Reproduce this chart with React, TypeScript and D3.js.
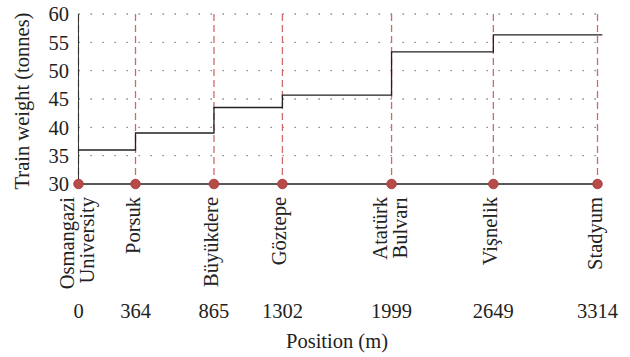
import React, { useEffect, useRef } from "react";
import * as d3 from "d3";

// stations along the line (m)
const stationNames = [["Osmangazi", "University"], ["Porsuk"], ["Büyükdere"], ["Göztepe"], ["Atatürk", "Bulvarı"], ["Vişnelik"], ["Stadyum"]];
const stationPos = [0, 364, 865, 1302, 1999, 2649, 3314];

// train weight steps: from position onward
const stepPos = [0, 364, 865, 1302, 1999, 2649, 3345];
const stepWeight = [36, 39, 43.5, 45.7, 53.3, 56.3, 56.3];

const yTicks = [30, 35, 40, 45, 50, 55, 60];

export default function App() {
  const ref = useRef<SVGSVGElement>(null);

  useEffect(() => {
    const svg = d3.select(ref.current);
    svg.selectAll("*").remove();

    const font = "Liberation Serif";
    const fs = 20.5;
    const x = d3.scaleLinear().domain([0, 3314]).range([78.5, 597.5]);
    const y = d3.scaleLinear().domain([30, 60]).range([184, 14]);

    // dotted horizontal grid
    svg.append("g")
      .selectAll("line")
      .data(yTicks.slice(1))
      .join("line")
      .attr("x1", x(0))
      .attr("x2", x(3314))
      .attr("y1", d => y(d))
      .attr("y2", d => y(d))
      .attr("stroke", "#777")
      .attr("stroke-width", 1.3)
      .attr("stroke-dasharray", "1.3 10.7")
      .attr("stroke-dashoffset", -12);

    // station dashed lines
    svg.append("g")
      .selectAll("line")
      .data(stationPos)
      .join("line")
      .attr("x1", d => x(d))
      .attr("x2", d => x(d))
      .attr("y1", y(60))
      .attr("y2", y(30))
      .attr("stroke", "#d06a6a")
      .attr("stroke-width", 1.3)
      .attr("stroke-dasharray", "7 4");

    // axes lines
    svg.append("line")
      .attr("x1", x(0)).attr("x2", x(0))
      .attr("y1", y(60)).attr("y2", y(30))
      .attr("stroke", "#333").attr("stroke-width", 1);
    svg.append("line")
      .attr("x1", x(0)).attr("x2", x(3314))
      .attr("y1", y(30)).attr("y2", y(30))
      .attr("stroke", "#222").attr("stroke-width", 1.3);

    // step line
    const line = d3.line<number>()
      .x((d, i) => x(stepPos[i]))
      .y(d => y(d))
      .curve(d3.curveStepAfter);
    svg.append("path")
      .attr("d", line(stepWeight))
      .attr("fill", "none")
      .attr("stroke", "#222")
      .attr("stroke-width", 1.3);

    // station dots
    svg.append("g")
      .selectAll("circle")
      .data(stationPos)
      .join("circle")
      .attr("cx", d => x(d))
      .attr("cy", y(30))
      .attr("r", 4.8)
      .attr("fill", "#b84a48")
      .attr("stroke", "#a03c3c")
      .attr("stroke-width", 0.8);

    const txt = (sel: any) =>
      sel.style("font-family", font).style("font-size", fs + "px").attr("fill", "#222");

    // y tick labels
    svg.append("g")
      .selectAll("text")
      .data(yTicks)
      .join("text")
      .attr("x", 69)
      .attr("y", d => y(d))
      .attr("dy", "0.35em")
      .attr("text-anchor", "end")
      .call(txt)
      .text(d => d);

    // y title
    svg.append("text")
      .attr("transform", `translate(29,${(y(30) + y(60)) / 2 + 2}) rotate(-90)`)
      .attr("text-anchor", "middle")
      .call(txt)
      .text("Train weight (tonnes)");

    // station names (rotated)
    const names = svg.append("g")
      .selectAll("g")
      .data(stationPos)
      .join("g")
      .attr("transform", d => `translate(${x(d)},197) rotate(-90)`);
    names.each(function (d, i) {
      const lines = stationNames[i];
      const g = d3.select(this);
      lines.forEach((t, j) => {
        const off = lines.length === 1 ? 4 : (j === 0 ? -5 : 15);
        g.append("text")
          .attr("x", 0)
          .attr("y", off)
          .attr("text-anchor", "end")
          .call(txt)
          .text(t);
      });
    });

    // position values
    svg.append("g")
      .selectAll("text")
      .data(stationPos)
      .join("text")
      .attr("x", d => x(d))
      .attr("y", 318)
      .attr("text-anchor", "middle")
      .call(txt)
      .text(d => d);

    svg.append("text")
      .attr("x", 337)
      .attr("y", 348)
      .attr("text-anchor", "middle")
      .call(txt)
      .text("Position (m)");
  }, []);

  return (
    <svg
      ref={ref}
      width={630}
      height={357}
      style={{ position: "absolute", left: 0, top: 0, background: "#fff" }}
    />
  );
}
